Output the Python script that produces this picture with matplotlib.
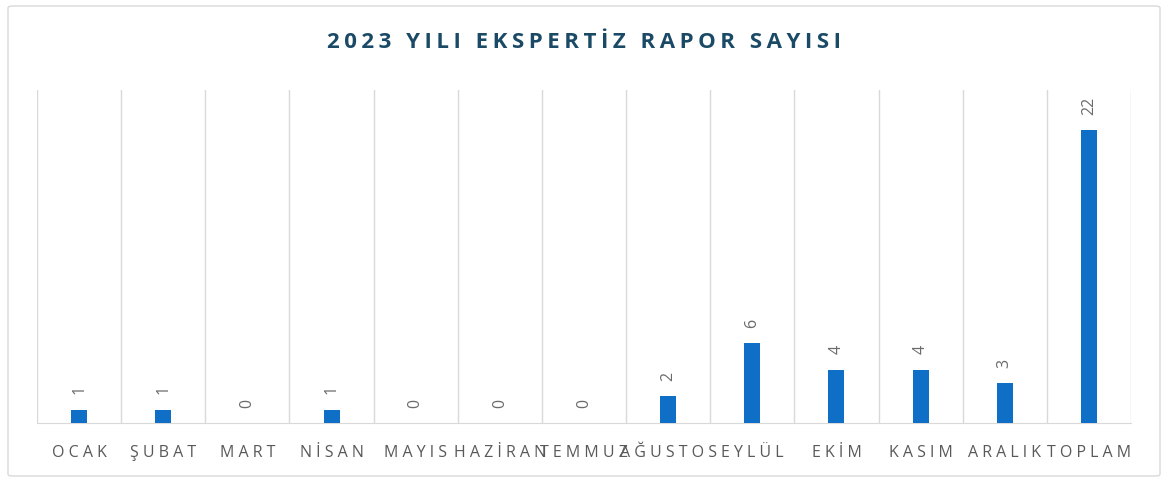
import numpy as np
import matplotlib
matplotlib.use("Agg")
import matplotlib.pyplot as plt
from matplotlib.patches import FancyBboxPatch

months = ["OCAK", "ŞUBAT", "MART", "NİSAN", "MAYIS", "HAZİRAN", "TEMMUZ",
          "AĞUSTOS", "EYLÜL", "EKİM", "KASIM", "ARALIK", "TOPLAM"]
counts = [1, 1, 0, 1, 0, 0, 0, 2, 6, 4, 4, 3, 22]

plt.rcParams["font.family"] = ["Open Sans", "DejaVu Sans"]

W, H = 1168, 484
fig = plt.figure(figsize=(W / 100, H / 100), dpi=100)

# outer chart border
fig.patches.append(FancyBboxPatch((8 / W, 8 / H), 1152 / W, 470 / H,
                                  boxstyle="round,pad=0,rounding_size=0.004",
                                  transform=fig.transFigure, fill=False,
                                  edgecolor="#D9D9D9", linewidth=1))

ax = fig.add_axes([37 / W, 1 - 423 / H, 1094 / W, 333 / H])
x = np.arange(len(months))
ax.bar(x, counts, width=0.19, color="#0F6FC6", zorder=3)

for xi, v in zip(x, counts):
    ax.annotate(str(v), (xi, v), xytext=(0, 11), textcoords="offset points",
                ha="center", va="bottom", rotation=90, fontsize=11.5,
                color="#6B6B6B")

ax.set_xlim(-0.5, len(months) - 0.5)
ax.set_ylim(0, 25)
ax.set_yticks([])
ax.set_xticks(x)
ax.set_xticklabels([" ".join(m) for m in months], fontsize=11.5, color="#595959")
ax.tick_params(axis="x", length=0, pad=16)
ax.set_xticks(np.arange(-0.5, len(months)), minor=True)
ax.tick_params(axis="x", which="minor", length=0)
ax.grid(axis="x", which="minor", color="#D9D9D9", linewidth=1, zorder=0)
ax.grid(axis="x", which="major", visible=False)
for s in ["top", "left", "right"]:
    ax.spines[s].set_visible(False)
ax.spines["bottom"].set_color("#D9D9D9")

fig.text(0.5, 1 - 43 / H, "\u2009".join("2023 YILI EKSPERTİZ RAPOR SAYISI"),
         ha="center", va="center", fontsize=16, fontweight="bold",
         color="#1B4A66")

fig.savefig("out.png", dpi=100)
